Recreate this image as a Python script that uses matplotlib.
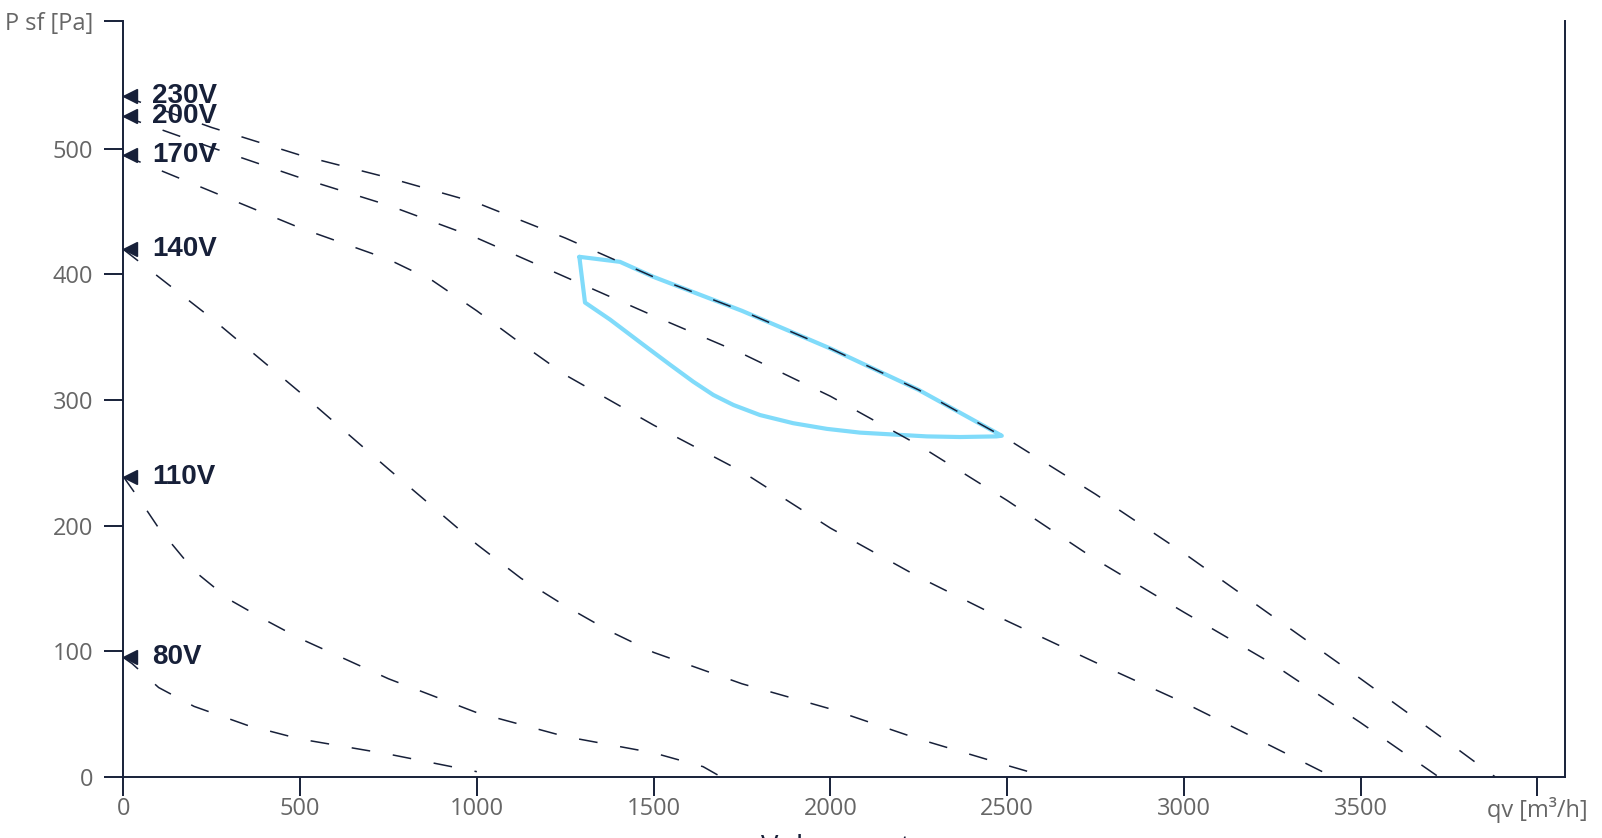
import matplotlib
matplotlib.use('Agg')
import matplotlib.pyplot as plt
from matplotlib.transforms import offset_copy

plt.rcParams['font.family'] = ['Open Sans', 'DejaVu Sans']
plt.rcParams['lines.scale_dashes'] = False

NAVY = '#172039'
GREY = '#666666'
BLUE = '#80dbfa'

# fan curves: qv [m3/h] -> P sf [Pa]
voltages = ['230V', '200V', '170V', '140V', '110V', '80V']

qv_230 = [0, 250, 500, 750, 1000, 1250, 1500, 1750, 2000, 2250, 2500, 2750, 3000, 3250, 3500, 3750, 3880]
ps_230 = [542, 517, 495, 477, 457, 429, 398, 371, 341, 308, 269, 225, 178, 128, 78, 27, 0]

qv_200 = [0, 250, 500, 750, 1000, 1250, 1500, 1750, 2000, 2250, 2500, 2750, 3000, 3250, 3500, 3720]
ps_200 = [526, 501, 477, 455, 429, 398, 367, 337, 303, 264, 220, 173, 131, 90, 43, 0]

qv_170 = [0, 250, 500, 750, 875, 1000, 1125, 1250, 1500, 1750, 2000, 2250, 2500, 2750, 3000, 3250, 3420]
ps_170 = [495, 466, 437, 412, 395, 371, 345, 320, 280, 243, 198, 159, 124, 91, 59, 24, 0]

qv_140 = [0, 250, 500, 750, 1000, 1125, 1250, 1375, 1500, 1750, 2000, 2250, 2500, 2610]
ps_140 = [420, 365, 306, 245, 185, 158, 136, 116, 99, 74, 54, 30, 9, 0]

qv_110 = [0, 50, 100, 200, 300, 400, 500, 750, 1000, 1250, 1500, 1640, 1690]
ps_110 = [239, 219, 198, 164, 141, 125, 110, 78, 51, 32, 19, 8, 0]

qv_80 = [0, 25, 100, 200, 350, 500, 750, 1000]
ps_80 = [95, 90, 71, 56, 41, 30, 18, 4]

curves_qv = [qv_230, qv_200, qv_170, qv_140, qv_110, qv_80]
curves_ps = [ps_230, ps_200, ps_170, ps_140, ps_110, ps_80]

# working area outline
area_qv = [1290, 1405, 1500, 1750, 2000, 2250, 2485, 2470, 2367, 2273, 2178, 2084, 1990,
           1895, 1801, 1726, 1669, 1612, 1547, 1471, 1377, 1306, 1290]
area_ps = [414, 410, 398, 371, 341, 308, 271.5, 271, 270.5, 271, 272.5, 274, 277,
           281.5, 288, 296, 304, 314.6, 328, 344, 364, 377.6, 414]

x_ticks = [0, 500, 1000, 1500, 2000, 2500, 3000, 3500, 4000]
x_labels = ['0', '500', '1000', '1500', '2000', '2500', '3000', '3500', 'qv [m³/h]']
y_ticks = [0, 100, 200, 300, 400, 500, 602]
y_labels = ['0', '100', '200', '300', '400', '500', 'P sf [Pa]']

fig = plt.figure(figsize=(16.02, 8.38), dpi=100)
ax = fig.add_axes([0.07697, 0.07315, 0.8999, 0.9021])

ax.plot(area_qv, area_ps, color=BLUE, lw=3.0, solid_joinstyle='round',
        solid_capstyle='round', zorder=2)

marker_tr = offset_copy(ax.transData, fig=fig, x=7, y=0, units='dots')
for name, q, p in zip(voltages, curves_qv, curves_ps):
    ax.plot(q, p, color=NAVY, lw=1.1, linestyle=(0, (13.5, 16.5)), zorder=3)
    ax.plot(q[0], p[0], marker='<', ms=10, color=NAVY, transform=marker_tr,
            clip_on=False, zorder=4)
    ax.annotate(name, xy=(q[0], p[0]), xytext=(29, 0), textcoords='offset pixels',
                ha='left', va='center', fontsize=20, fontweight='bold',
                family=['Liberation Sans', 'DejaVu Sans'], color=NAVY, zorder=5)

ax.set_xlim(0, 4078)
ax.set_ylim(0, 602)
ax.set_xticks(x_ticks)
ax.set_xticklabels(x_labels)
ax.set_yticks(y_ticks)
ax.set_yticklabels(y_labels)

for side in ['left', 'right', 'bottom']:
    ax.spines[side].set_color(NAVY)
    ax.spines[side].set_linewidth(1.4)
ax.spines['top'].set_visible(False)

ax.tick_params(axis='both', direction='out', length=13.7, width=1.4, color=NAVY,
               labelcolor=GREY, labelsize=17)
ax.tick_params(axis='x', pad=1)
ax.tick_params(axis='y', pad=8)

# axis title, mostly below the picture edge
fig.text(0.527, 1 - 834 / 838, 'Volume rate', ha='center', va='top',
         fontsize=21, color=NAVY)

fig.savefig('out.png', dpi=100)
